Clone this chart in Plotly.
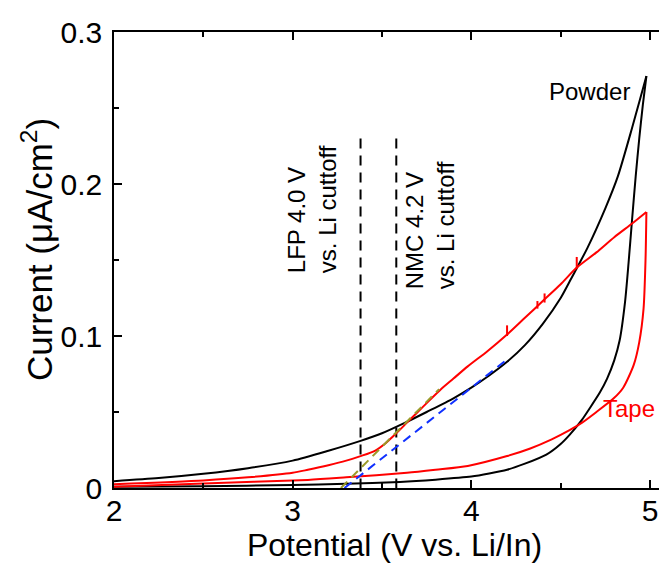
import plotly.graph_objects as go

# ---- data ----
# Powder (black) loop: branch towards 5 V, then branch back to 2 V
powder_up_x = [2.0, 2.25, 2.5, 2.75, 3.0, 3.2, 3.38, 3.5, 3.63, 3.75, 3.9, 4.0, 4.1, 4.2, 4.3, 4.4, 4.5, 4.56, 4.65, 4.75, 4.82, 4.9, 4.94, 4.98]
powder_up_y = [0.0045, 0.0065, 0.0093, 0.013, 0.018, 0.0245, 0.031, 0.036, 0.043, 0.050, 0.059, 0.066, 0.074, 0.083, 0.094, 0.108, 0.125, 0.138, 0.158, 0.184, 0.205, 0.237, 0.254, 0.271]
powder_down_x = [4.98, 4.96, 4.94, 4.92, 4.90, 4.88, 4.86, 4.83, 4.80, 4.76, 4.72, 4.66, 4.62, 4.55, 4.5, 4.42, 4.3, 4.2, 4.1, 4.0, 3.8, 3.6, 3.3, 3.0, 2.5, 2.0]
powder_down_y = [0.271, 0.252, 0.230, 0.205, 0.177, 0.148, 0.122, 0.097, 0.084, 0.072, 0.063, 0.052, 0.045, 0.035, 0.029, 0.022, 0.016, 0.012, 0.0095, 0.0075, 0.0055, 0.004, 0.0028, 0.002, 0.0012, 0.0008]

# Tape (red) loop
tape_up_x = [2.0, 2.5, 2.75, 3.0, 3.085, 3.2, 3.3, 3.38, 3.46, 3.52, 3.58, 3.64, 3.70, 3.76, 3.83, 3.9, 3.98, 4.09,
             4.2, 4.3, 4.4, 4.5, 4.59, 4.7, 4.8, 4.9, 4.98]
tape_up_y = [0.0025, 0.005, 0.007, 0.010, 0.012, 0.015, 0.018, 0.021, 0.0245, 0.0295, 0.036, 0.043, 0.050, 0.057, 0.065, 0.072, 0.080, 0.090,
             0.101, 0.112, 0.123, 0.134, 0.145, 0.155, 0.165, 0.174, 0.1816]
tape_down_x = [4.98, 4.975, 4.964, 4.94, 4.909, 4.85, 4.797, 4.70, 4.62, 4.55, 4.45, 4.33, 4.2, 3.98, 3.8, 3.64, 3.3, 3.085, 2.5, 2.0]
tape_down_y = [0.1816, 0.150, 0.118, 0.096, 0.081, 0.066, 0.059, 0.050, 0.043, 0.038, 0.032, 0.026, 0.021, 0.0145, 0.012, 0.010, 0.007, 0.0053, 0.003, 0.0008]

# small glitches on the tape curve
tape_spike_x = [4.2, 4.37, 4.41, 4.59]
tape_spike_low = [0.100, 0.118, 0.122, 0.144]
tape_spike_high = [0.107, 0.123, 0.128, 0.152]

lfp_tangent_x = [3.27, 3.82]
lfp_tangent_y = [0.0, 0.065]
nmc_tangent_x = [3.29, 4.21]
nmc_tangent_y = [0.0, 0.0855]

cutoff_x = [3.38, 3.58]
cutoff_y_top = 0.23
cutoff_labels = ["LFP 4.0 V<br>vs. Li cuttoff", "NMC 4.2 V<br>vs. Li cuttoff"]

x_tickvals = [2, 3, 4, 5]
x_ticktext = ["2", "3", "4", "5"]
y_tickvals = [0, 0.1, 0.2, 0.3]
y_ticktext = ["0", "0.1", "0.2", "0.3"]

FONT = "Liberation Sans, Arial, sans-serif"
RED = "#FF0000"

fig = go.Figure()

# cutoff vertical dashed lines
for cx in cutoff_x:
    fig.add_trace(go.Scatter(x=[cx, cx], y=[cutoff_y_top, 0], mode="lines",
                             line=dict(color="black", width=2, dash="10px,7px"),
                             showlegend=False, hoverinfo="skip"))

for bx, by in [(powder_up_x, powder_up_y), (powder_down_x, powder_down_y)]:
    fig.add_trace(go.Scatter(x=bx, y=by, mode="lines",
                             line=dict(color="black", width=2, shape="spline", smoothing=0.7),
                             showlegend=False))
for bx, by in [(tape_up_x, tape_up_y), (tape_down_x, tape_down_y)]:
    fig.add_trace(go.Scatter(x=bx, y=by, mode="lines",
                             line=dict(color=RED, width=2, shape="spline", smoothing=0.7),
                             showlegend=False))
for sx, lo, hi in zip(tape_spike_x, tape_spike_low, tape_spike_high):
    fig.add_trace(go.Scatter(x=[sx, sx], y=[lo, hi], mode="lines",
                             line=dict(color=RED, width=2), showlegend=False))

fig.add_trace(go.Scatter(x=lfp_tangent_x, y=lfp_tangent_y, mode="lines",
                         line=dict(color="#9A9A28", width=2, dash="9px,6px"), showlegend=False))
fig.add_trace(go.Scatter(x=nmc_tangent_x, y=nmc_tangent_y, mode="lines",
                         line=dict(color="#1030FF", width=2, dash="9px,6px"), showlegend=False))

# annotations
fig.add_annotation(x=3.108, y=0.140, xref="x", yref="y", text=cutoff_labels[0], textangle=-90,
                   showarrow=False, align="left", xanchor="center", yanchor="bottom",
                   font=dict(family=FONT, size=24, color="black"))
fig.add_annotation(x=3.77, y=0.1296, xref="x", yref="y", text=cutoff_labels[1], textangle=-90,
                   showarrow=False, align="left", xanchor="center", yanchor="bottom",
                   font=dict(family=FONT, size=24, color="black"))
fig.add_annotation(x=4.66, y=0.261, xref="x", yref="y", text="Powder", showarrow=False,
                   font=dict(family=FONT, size=24, color="black"))
fig.add_annotation(x=4.883, y=0.0526, xref="x", yref="y", text="Tape", showarrow=False,
                   font=dict(family=FONT, size=24, color=RED))
# y-axis title
fig.add_annotation(x=-0.137, y=0.522, xref="paper", yref="paper", text="Current (μA/cm<sup>2</sup>)",
                   textangle=-90, showarrow=False, xanchor="center", yanchor="middle",
                   font=dict(family=FONT, size=35, color="black"))

fig.update_layout(
    width=667, height=567,
    margin=dict(l=106, r=0, t=24, b=87),
    plot_bgcolor="white", paper_bgcolor="white",
    font=dict(family=FONT, color="black"),
    showlegend=False,
)
fig.update_xaxes(range=[2, 5.14], tickvals=x_tickvals, ticktext=x_ticktext,
                 ticks="inside", ticklen=8, tickwidth=1.5, tickcolor="black",
                 minor=dict(ticks="inside", ticklen=5, tickwidth=1.5, tickcolor="black", dtick=0.5, showgrid=False),
                 showline=True, linecolor="black", linewidth=1.5, mirror="ticks",
                 showgrid=False, zeroline=False, ticklabelstandoff=-5,
                 tickfont=dict(family=FONT, size=30),
                 title=dict(text="Potential (V vs. Li/In)", font=dict(family=FONT, size=32), standoff=4))
fig.update_yaxes(range=[0, 0.3], tickvals=y_tickvals, ticktext=y_ticktext,
                 ticks="inside", ticklen=8, tickwidth=1.5, tickcolor="black",
                 minor=dict(ticks="inside", ticklen=5, tickwidth=1.5, tickcolor="black", dtick=0.05, showgrid=False),
                 showline=True, linecolor="black", linewidth=1.5, mirror=False,
                 showgrid=False, zeroline=False, ticklabelstandoff=4,
                 tickfont=dict(family=FONT, size=30))

fig.write_html("out.html")
